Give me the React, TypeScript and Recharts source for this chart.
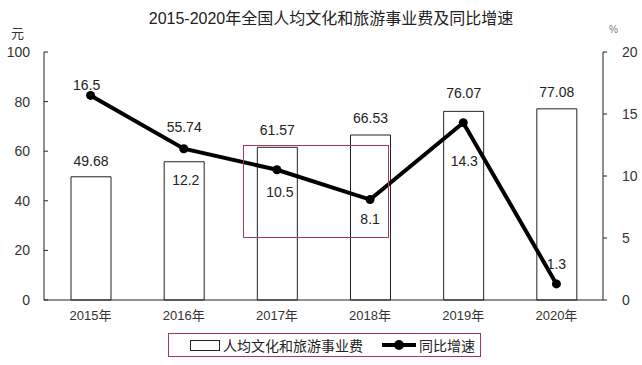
import React from "react";
import {
  ComposedChart,
  Bar,
  Line,
  XAxis,
  YAxis,
  LabelList,
} from "recharts";

const years = ["2015年", "2016年", "2017年", "2018年", "2019年", "2020年"];
const spending = [49.68, 55.74, 61.57, 66.53, 76.07, 77.08];
const growth = [16.5, 12.2, 10.5, 8.1, 14.3, 1.3];
const leftTicks = [0, 20, 40, 60, 80, 100];
const rightTicks = [0, 5, 10, 15, 20];

const data = years.map((year, i) => ({
  year,
  spending: spending[i],
  growth: growth[i],
}));

// label placement (center of text relative to the mark top / dot)
const BAR_LABEL_DY = [-16, -35, -17, -17, -18, -17];
const LINE_LABEL_DX = [-4, 2, 3, 0, 1, 0];
const LINE_LABEL_DY = [-10, 31, 22, 19, 38, -20];

const TEXT = "#222";
const AXIS_TEXT = "#333";
const BOX = "#a8384f";
const FONT = "'Liberation Sans', 'Noto Sans CJK SC', sans-serif";

const barLabel = (props: any) => {
  const { x, y, width, index, value } = props;
  return (
    <text
      x={x + width / 2}
      y={y + BAR_LABEL_DY[index]}
      textAnchor="middle"
      dominantBaseline="central"
      fill={TEXT}
      fontSize={14}
      fontFamily={FONT}
    >
      {value}
    </text>
  );
};

const lineLabel = (props: any) => {
  const { x, y, index, value } = props;
  return (
    <text
      x={x + LINE_LABEL_DX[index]}
      y={y + LINE_LABEL_DY[index]}
      textAnchor="middle"
      dominantBaseline="central"
      fill={TEXT}
      fontSize={14}
      fontFamily={FONT}
    >
      {value}
    </text>
  );
};

export default function App() {
  return (
    <div
      style={{
        position: "absolute",
        left: 0,
        top: 0,
        width: 642,
        height: 365,
        background: "#fff",
        fontFamily: FONT,
      }}
    >
      <div
        style={{
          position: "absolute",
          top: 5,
          left: 0,
          width: 662,
          textAlign: "center",
          fontSize: 16,
          color: TEXT,
        }}
      >
        2015-2020年全国人均文化和旅游事业费及同比增速
      </div>
      <div style={{ position: "absolute", left: 11, top: 23, fontSize: 13, color: AXIS_TEXT }}>
        元
      </div>
      <div style={{ position: "absolute", left: 609, top: 24, fontSize: 10, color: "#777" }}>
        %
      </div>
      <ComposedChart
        width={642}
        height={365}
        data={data}
        margin={{ top: 52, right: 0, bottom: 35, left: 0 }}
        barCategoryGap={0}
      >
        <XAxis
          dataKey="year"
          height={30}
          axisLine={{ stroke: "#222" }}
          tickLine={false}
          tickSize={0}
          tickMargin={11}
          tick={{ fill: AXIS_TEXT, fontSize: 13, fontFamily: FONT }}
        />
        <YAxis
          yAxisId="left"
          width={44}
          domain={[0, 100]}
          ticks={leftTicks}
          axisLine={{ stroke: "#222" }}
          tickLine={{ stroke: "#222" }}
          tickSize={-4}
          tickMargin={18}
          tick={{ fill: AXIS_TEXT, fontSize: 14, fontFamily: FONT }}
        />
        <YAxis
          yAxisId="right"
          orientation="right"
          width={39}
          domain={[0, 20]}
          ticks={rightTicks}
          axisLine={{ stroke: "#222" }}
          tickLine={{ stroke: "#222" }}
          tickSize={4}
          tickMargin={15}
          tick={{ fill: AXIS_TEXT, fontSize: 14, fontFamily: FONT }}
        />
        <Bar
          yAxisId="left"
          dataKey="spending"
          barSize={40}
          fill="#fff"
          stroke="#222"
          strokeWidth={1}
          isAnimationActive={false}
        >
          <LabelList dataKey="spending" content={barLabel} />
        </Bar>
        <Line
          yAxisId="right"
          dataKey="growth"
          stroke="#000"
          strokeWidth={4}
          dot={{ r: 4.5, fill: "#000", stroke: "#000", strokeWidth: 0 }}
          isAnimationActive={false}
        >
          <LabelList dataKey="growth" content={lineLabel} />
        </Line>
      </ComposedChart>
      {/* highlight frame drawn over the 2017-2018 area */}
      <div
        style={{
          position: "absolute",
          left: 243,
          top: 145,
          width: 144,
          height: 91,
          border: `1px solid ${BOX}`,
          pointerEvents: "none",
        }}
      />
      <div
        style={{
          position: "absolute",
          left: 168,
          top: 333,
          width: 311,
          height: 22,
          border: `1px solid ${BOX}`,
          fontSize: 14,
          color: TEXT,
        }}
      >
        <div
          style={{
            position: "absolute",
            left: 21,
            top: 6,
            width: 28,
            height: 9,
            border: "1px solid #222",
            background: "#fff",
          }}
        />
        <div style={{ position: "absolute", left: 54, top: 1, whiteSpace: "nowrap" }}>
          人均文化和旅游事业费
        </div>
        <div
          style={{
            position: "absolute",
            left: 213,
            top: 9,
            width: 34,
            height: 4,
            background: "#000",
          }}
        />
        <div
          style={{
            position: "absolute",
            left: 225,
            top: 6,
            width: 10,
            height: 10,
            borderRadius: 5,
            background: "#000",
          }}
        />
        <div style={{ position: "absolute", left: 250, top: 1, whiteSpace: "nowrap" }}>
          同比增速
        </div>
      </div>
    </div>
  );
}
